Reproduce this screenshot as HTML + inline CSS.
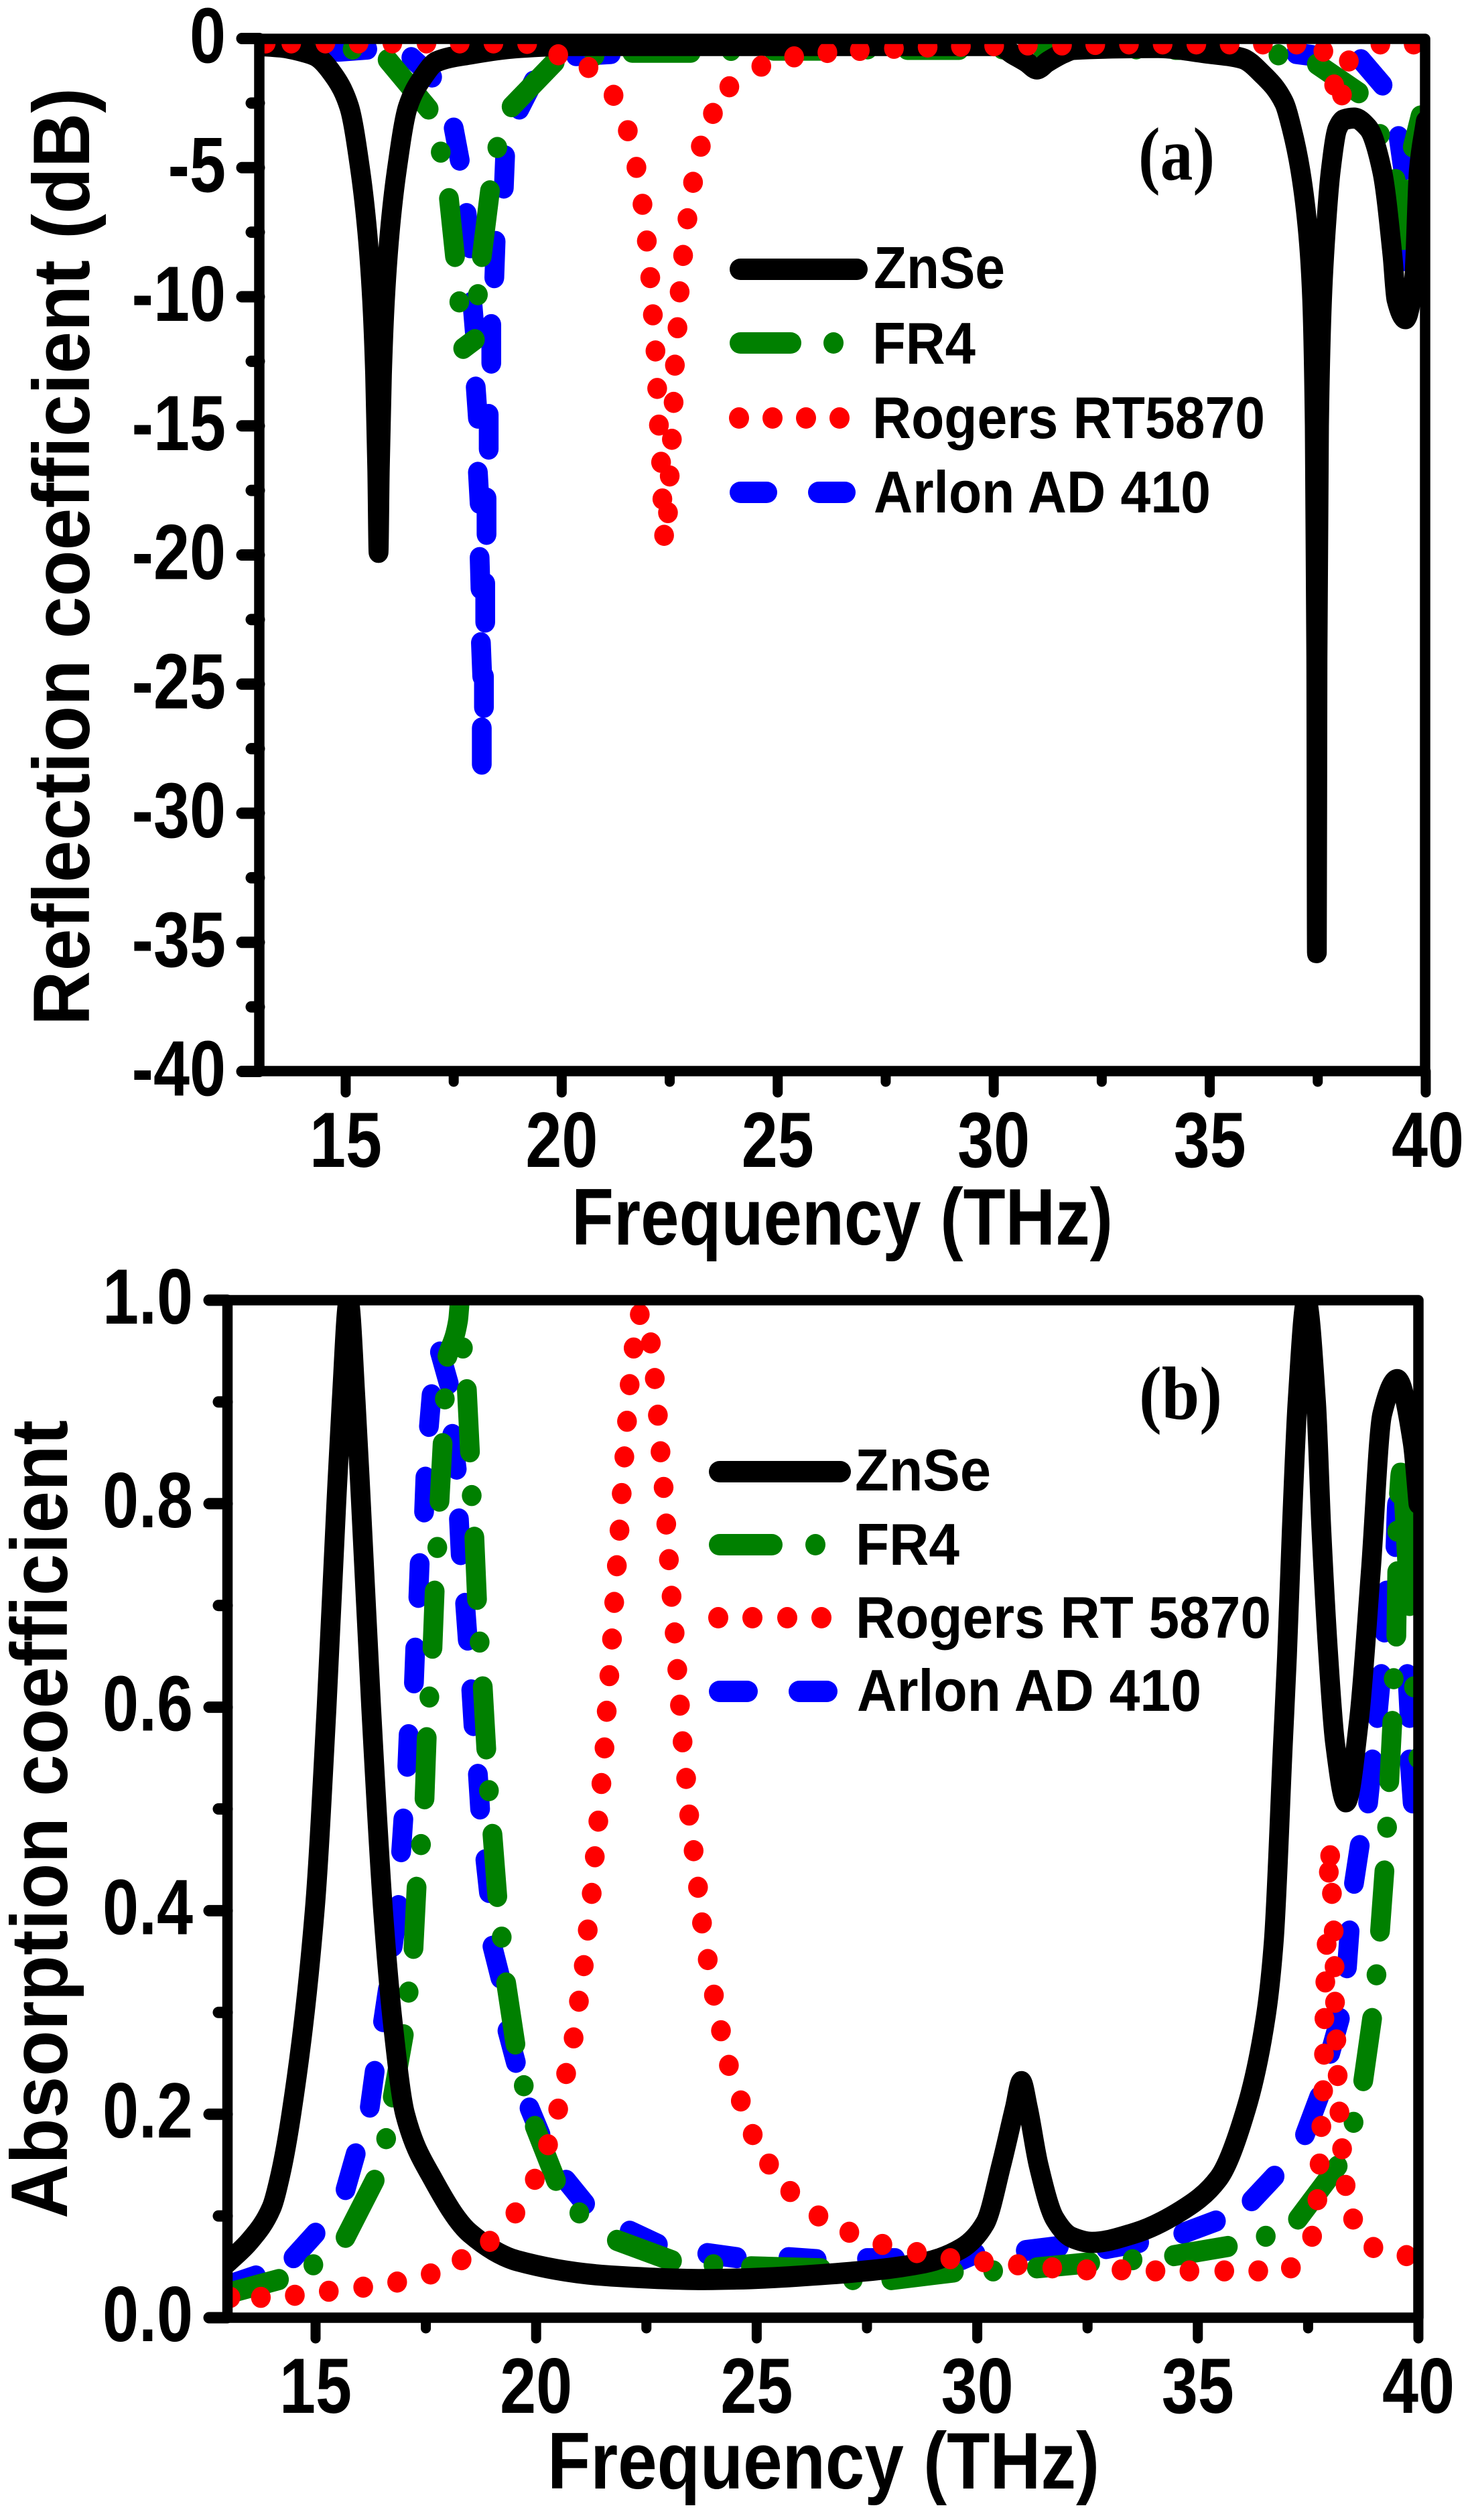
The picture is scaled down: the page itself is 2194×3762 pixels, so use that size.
<!DOCTYPE html>
<html lang="en">
<head>
<meta charset="utf-8">
<title>Reflection and absorption coefficient spectra</title>
<style>
html,body{margin:0;padding:0;background:#fff;}
svg{display:block;}
text{font-family:"Liberation Sans",sans-serif;font-weight:700;fill:#000;}
.serif{font-family:"Liberation Serif",serif;}
</style>
</head>
<body>
<svg id="chart" xmlns="http://www.w3.org/2000/svg" width="2194" height="3762" viewBox="0 0 2194 3762">
<rect x="0" y="0" width="2194" height="3762" fill="#fff"/>
<defs>
<clipPath id="clipA"><rect x="387" y="58" width="1740" height="1541"/></clipPath>
<clipPath id="clipB"><rect x="339" y="1941" width="1778" height="1519"/></clipPath>
</defs>
<g id="panelA"></g>
<g id="panelB"></g>

<text transform="translate(133,1531) rotate(-90)" font-size="120" textLength="1400" lengthAdjust="spacingAndGlyphs">Reflection coefficient (dB)</text>
<text x="853" y="1858" font-size="120" textLength="808" lengthAdjust="spacingAndGlyphs">Frequency (THz)</text>
<text class="serif" x="1699" y="268" font-size="112" textLength="114" lengthAdjust="spacingAndGlyphs">(a)</text>

<g>
<g>
<line x1="1105" y1="402" x2="1279" y2="402" stroke="#000" stroke-width="32" stroke-linecap="round"/>
<text x="1304" y="430" font-size="88" textLength="196" lengthAdjust="spacingAndGlyphs">ZnSe</text>
</g>
<g>
<line x1="1105" y1="512" x2="1180" y2="512" stroke="#008000" stroke-width="32" stroke-linecap="round"/>
<ellipse cx="1244" cy="512" rx="15" ry="16" fill="#008000"/>
<text x="1302" y="543" font-size="88" textLength="154" lengthAdjust="spacingAndGlyphs">FR4</text>
</g>
<g>
<ellipse cx="1103" cy="624" rx="15" ry="16" fill="#f00"/>
<ellipse cx="1153" cy="624" rx="15" ry="16" fill="#f00"/>
<ellipse cx="1203" cy="624" rx="15" ry="16" fill="#f00"/>
<ellipse cx="1253" cy="624" rx="15" ry="16" fill="#f00"/>
<text x="1302" y="654" font-size="88" textLength="586" lengthAdjust="spacingAndGlyphs">Rogers RT5870</text>
</g>
<g>
<line x1="1105" y1="735" x2="1144" y2="735" stroke="#00f" stroke-width="32" stroke-linecap="round"/>
<line x1="1222" y1="735" x2="1261" y2="735" stroke="#00f" stroke-width="32" stroke-linecap="round"/>
<text x="1304" y="765" font-size="88" textLength="503" lengthAdjust="spacingAndGlyphs">Arlon AD 410</text>
</g>
</g>

<text transform="translate(100,3312) rotate(-90)" font-size="120" textLength="1192" lengthAdjust="spacingAndGlyphs">Absorption coefficient</text>
<text x="817" y="3715" font-size="120" textLength="824" lengthAdjust="spacingAndGlyphs">Frequency (THz)</text>
<text class="serif" x="1700" y="2118" font-size="112" textLength="124" lengthAdjust="spacingAndGlyphs">(b)</text>

<g>
<g>
<line x1="1074" y1="2197" x2="1254" y2="2197" stroke="#000" stroke-width="32" stroke-linecap="round"/>
<text x="1276" y="2225" font-size="88" textLength="203" lengthAdjust="spacingAndGlyphs">ZnSe</text>
</g>
<g>
<line x1="1074" y1="2306" x2="1152" y2="2306" stroke="#008000" stroke-width="32" stroke-linecap="round"/>
<ellipse cx="1217" cy="2306" rx="15" ry="16" fill="#008000"/>
<text x="1277" y="2336" font-size="88" textLength="155" lengthAdjust="spacingAndGlyphs">FR4</text>
</g>
<g>
<ellipse cx="1072" cy="2415" rx="15" ry="16" fill="#f00"/>
<ellipse cx="1123" cy="2415" rx="15" ry="16" fill="#f00"/>
<ellipse cx="1175" cy="2415" rx="15" ry="16" fill="#f00"/>
<ellipse cx="1226" cy="2415" rx="15" ry="16" fill="#f00"/>
<text x="1277" y="2445" font-size="88" textLength="620" lengthAdjust="spacingAndGlyphs">Rogers RT 5870</text>
</g>
<g>
<line x1="1074" y1="2525" x2="1115" y2="2525" stroke="#00f" stroke-width="32" stroke-linecap="round"/>
<line x1="1193" y1="2525" x2="1234" y2="2525" stroke="#00f" stroke-width="32" stroke-linecap="round"/>
<text x="1279" y="2554" font-size="88" textLength="514" lengthAdjust="spacingAndGlyphs">Arlon AD 410</text>
</g>
</g>
</svg>

<script>
// Tick values
const xMajorTicks = [15, 20, 25, 30, 35, 40];
const xMinorTicks = [17.5, 22.5, 27.5, 32.5, 37.5];
const yMajorTicksA = [0, -5, -10, -15, -20, -25, -30, -35, -40];
const yMinorTicksA = [-2.5, -7.5, -12.5, -17.5, -22.5, -27.5, -32.5, -37.5];
const yTickLabelsA = ['0', '-5', '-10', '-15', '-20', '-25', '-30', '-35', '-40'];
const yMajorTicksB = [0, 0.2, 0.4, 0.6, 0.8, 1.0];
const yMinorTicksB = [0.1, 0.3, 0.5, 0.7, 0.9];
const yTickLabelsB = ['0.0', '0.2', '0.4', '0.6', '0.8', '1.0'];

// Panel (a): frequency (THz) / reflection (dB). null = a visible gap in the dash pattern.
const znseFreqA = [13,13.5,14,14.29,14.75,15.08,15.34,15.5,15.61,15.68,15.73,15.76,15.79,15.84,15.91,16.02,16.18,16.44,16.79,17.1,17.88,19,20.05,25,30.1,30.44,30.75,31,31.25,31.63,31.85,33.8,34.88,35.75,36.23,36.72,36.9,37.1,37.28,37.37,37.43,37.465,37.48,37.495,37.53,37.6,37.68,37.8,37.96,38.1,38.34,38.67,38.99,39.23,39.32,39.53,39.73,39.84,40];
const znseReflA = [-0.27,-0.33,-0.5,-0.66,-1.49,-2.64,-5.13,-7.5,-10.1,-13,-16.7,-19.9,-16.7,-13,-10.1,-7.5,-5.13,-2.64,-1.49,-0.9,-0.6,-0.35,-0.27,-0.27,-0.27,-0.6,-0.9,-1.18,-0.9,-0.55,-0.42,-0.35,-0.55,-0.77,-1.4,-2.48,-3.5,-5.13,-7.6,-10.1,-15,-24,-35.4,-24,-15,-10.1,-7.6,-5.13,-3.47,-3.15,-3.08,-3.47,-5.13,-8.4,-10.1,-10.85,-9.3,-5.1,-3.2];
const fr4FreqA = [13,13.7,null,14.4,null,15.16,null,15.97,16.92,null,17.2,null,17.39,17.53,null,17.63,null,17.72,17.99,null,18.06,null,18.15,18.34,null,18.51,null,18.84,19.84,null,20.76,null,21.63,22.99,null,23.92,null,24.9,26.1,null,27.08,null,28,29.2,null,30.2,null,31.1,32.3,null,33.3,null,34.2,35.4,null,36.59,null,37.48,38.45,null,38.94,null,39.3,39.48,null,39.55,null,39.7,39.88];
const fr4ReflA = [-0.15,-0.18,null,-0.25,null,-0.41,null,-0.82,-2.73,null,-4.4,null,-6.2,-8.44,null,-10.2,null,-12,-11.66,null,-9.92,null,-8.44,-5.9,null,-4.22,null,-2.64,-0.91,null,-0.66,null,-0.53,-0.53,null,-0.46,null,-0.45,-0.45,null,-0.4,null,-0.42,-0.42,null,-0.4,null,-0.35,-0.35,null,-0.4,null,-0.42,-0.42,null,-0.63,null,-0.99,-2.1,null,-3.72,null,-5.46,-7.78,null,-5.87,null,-4.2,-3];
const arlonFreqA = [13,13.65,null,14.83,15.5,null,16.52,17,null,17.5,17.64,null,17.8,17.88,null,17.93,17.99,null,18.01,18.06,null,18.06,18.1,null,18.1,18.12,null,18.13,18.16,null,18.15,18.15,null,18.2,18.2,null,18.23,18.23,null,18.26,18.26,null,18.31,18.31,null,18.37,18.37,null,18.44,18.47,null,18.66,18.69,null,19.02,19.35,null,20.33,21.14,null,37,37.37,null,38.5,39,null,39.37,39.48,null,39.5,39.52];
const arlonReflA = [-0.12,-0.15,null,-0.49,-0.41,null,-0.74,-1.49,null,-3.47,-4.71,null,-6.78,-8.1,null,-10.2,-11.4,null,-13.5,-14.7,null,-16.8,-18,null,-20.1,-21.3,null,-23.4,-24.7,null,-26.7,-28.1,null,-25.9,-24.7,null,-22.6,-21.1,null,-19.2,-17.8,null,-15.9,-14.56,null,-12.57,-11.08,null,-9.26,-7.86,null,-5.79,-4.55,null,-2.73,-1.65,null,-0.66,-0.58,null,-0.58,-0.66,null,-0.82,-1.8,null,-3.8,-5.1,null,-7.2,-8.6];
const rogersFreqA = [13.15,null,13.74,null,14.53,null,15.3,null,16.08,null,16.87,null,17.64,null,18.42,null,19.2,null,19.92,null,20.62,null,21.2,null,21.53,null,21.73,null,21.87,null,21.97,null,22.05,null,22.11,null,22.17,null,22.21,null,22.25,null,22.3,null,22.33,null,22.37,null,22.46,null,22.5,null,22.55,null,22.59,null,22.62,null,22.68,null,22.73,null,22.81,null,22.91,null,23.04,null,23.22,null,23.5,null,23.88,null,24.62,null,25.38,null,26.15,null,26.9,null,27.69,null,28.47,null,29.24,null,30.01,null,30.79,null,31.58,null,32.35,null,33.13,null,33.91,null,34.69,null,35.46,null,36.23,null,37.01,null,37.63,null,37.88,null,38.06,null,38.22,null,38.95,null,39.72];
const rogersReflA = [-0.17,null,-0.17,null,-0.17,null,-0.17,null,-0.17,null,-0.17,null,-0.17,null,-0.17,null,-0.19,null,-0.63,null,-1.12,null,-2.2,null,-3.57,null,-4.99,null,-6.42,null,-7.84,null,-9.26,null,-10.7,null,-12.1,null,-13.55,null,-14.97,null,-16.41,null,-17.83,null,-19.24,null,-18.36,null,-16.94,null,-15.52,null,-14.09,null,-12.65,null,-11.2,null,-9.81,null,-8.4,null,-6.98,null,-5.57,null,-4.17,null,-2.9,null,-1.87,null,-1.07,null,-0.71,null,-0.54,null,-0.46,null,-0.38,null,-0.33,null,-0.3,null,-0.28,null,-0.25,null,-0.25,null,-0.23,null,-0.21,null,-0.21,null,-0.21,null,-0.21,null,-0.21,null,-0.21,null,-0.49,null,-1.8,null,-2.18,null,-0.87,null,-0.21,null,-0.21];

// Panel (b): frequency (THz) / absorption coefficient. null = a visible gap in the dash pattern.
const znseFreqB = [13,13.5,14,14.2,14.45,14.98,15.25,15.47,15.59,15.75,15.91,16.03,16.26,16.53,16.75,17.03,17.65,18.5,19.57,21.7,23.8,24.55,26.67,28.8,29.64,30.18,30.55,30.85,31,31.15,31.39,31.76,32.14,32.6,33.56,34.62,35.47,36.1,36.54,36.72,36.93,37.02,37.13,37.26,37.46,37.68,37.8,37.96,38.11,38.36,38.65,38.92,39.18,39.52,39.87,40];
const znseAbsB = [0.054,0.075,0.108,0.14,0.2,0.4,0.6,0.8,0.9,1,0.9,0.8,0.6,0.4,0.29,0.2,0.137,0.083,0.056,0.041,0.0375,0.038,0.043,0.054,0.068,0.093,0.151,0.206,0.232,0.206,0.15,0.097,0.079,0.074,0.083,0.105,0.137,0.206,0.296,0.369,0.565,0.649,0.775,0.9,1,0.9,0.775,0.649,0.565,0.507,0.586,0.733,0.888,0.922,0.86,0.8];
const fr4FreqB = [13.1,14.17,null,14.95,null,15.68,16.34,null,16.6,null,16.75,17,null,17.11,null,17.22,17.29,null,17.39,null,17.47,17.52,null,17.58,null,17.65,17.7,null,17.76,null,17.81,17.88,null,17.93,null,17.99,18.23,18.27,null,18.34,null,18.43,18.5,null,18.54,null,18.6,18.66,null,18.72,null,18.79,18.87,null,18.93,null,19.01,19.12,null,19.22,null,19.32,19.53,null,19.72,null,19.97,20.45,null,20.98,null,21.83,23.08,null,24.02,null,24.87,26.46,null,27.18,null,28.05,29.47,null,30.36,null,31.35,32.56,null,33.52,null,34.46,35.68,null,36.54,null,37.27,38.17,null,38.53,null,38.75,38.95,null,39.05,null,39.13,39.23,null,39.29,null,39.34,39.41,null,39.44,null,39.5,39.52,null,39.52,null,39.56,39.6,39.8,null,39.9,null,40];
const fr4AbsB = [0.025,0.0375,null,0.052,null,0.079,0.135,null,0.176,null,0.217,0.278,null,0.32,null,0.363,0.423,null,0.465,null,0.51,0.57,null,0.61,null,0.658,0.714,null,0.757,null,0.8025,0.859,null,0.903,null,0.945,0.98,1,null,0.953,null,0.912,0.851,null,0.808,null,0.767,0.706,null,0.664,null,0.62,0.559,null,0.518,null,0.475,0.414,null,0.374,null,0.329,0.269,null,0.228,null,0.188,0.135,null,0.103,null,0.076,0.056,null,0.052,null,0.05,0.048,null,0.0375,null,0.0375,0.045,null,0.046,null,0.049,0.054,null,0.057,null,0.061,0.07,null,0.08,null,0.097,0.149,null,0.192,null,0.233,0.294,null,0.337,null,0.38,0.439,null,0.482,null,0.527,0.586,null,0.628,null,0.67,0.733,null,0.773,null,0.81,0.83,0.7,null,0.62,null,0.55];
const arlonFreqB = [13.1,13.65,null,14.5,15,null,15.68,15.91,null,16.23,16.34,null,16.53,16.64,null,16.75,16.88,null,16.94,16.99,null,17.08,17.11,null,17.23,17.26,null,17.33,17.36,null,17.46,17.49,null,17.57,17.63,null,17.82,18.02,null,18.1,18.2,null,18.25,18.29,null,18.39,18.45,null,18.53,18.58,null,18.68,18.73,null,18.85,18.93,null,19.01,19.19,null,19.35,19.54,null,19.85,20.1,null,20.68,21.11,null,22.12,22.76,null,23.88,24.55,null,25.72,26.36,null,27.5,28.14,null,29.64,29.96,null,31.1,31.85,null,32.92,33.67,null,34.67,35.41,null,36.22,36.74,null,37.43,37.75,null,38,38.22,null,38.38,38.44,null,38.54,38.67,null,38.86,38.96,null,39.07,39.16,null,39.23,39.28,null,39.48,39.52,39.6,null,39.75,39.8,null,39.8,39.87];
const arlonAbsB = [0.033,0.041,null,0.059,0.083,null,0.126,0.161,null,0.207,0.242,null,0.291,0.323,null,0.365,0.405,null,0.458,0.49,null,0.542,0.573,null,0.624,0.658,null,0.708,0.741,null,0.792,0.826,null,0.876,0.907,null,0.949,0.918,null,0.868,0.834,null,0.785,0.75,null,0.702,0.666,null,0.617,0.582,null,0.534,0.5,null,0.45,0.418,null,0.365,0.334,null,0.282,0.251,null,0.206,0.18,null,0.135,0.112,null,0.085,0.072,null,0.063,0.059,null,0.059,0.057,null,0.058,0.058,null,0.057,0.063,null,0.066,0.07,null,0.068,0.074,null,0.083,0.095,null,0.115,0.139,null,0.18,0.217,null,0.26,0.294,null,0.344,0.38,null,0.427,0.464,null,0.506,0.548,null,0.59,0.632,null,0.674,0.714,null,0.758,0.8,0.78,null,0.632,0.59,null,0.548,0.506];
const rogersFreqB = [13.07,null,13.76,null,14.53,null,15.3,null,16.08,null,16.85,null,17.61,null,18.31,null,18.95,null,19.53,null,19.97,null,20.27,null,20.5,null,20.68,null,20.85,null,20.97,null,21.08,null,21.17,null,21.26,null,21.33,null,21.41,null,21.48,null,21.55,null,21.6,null,21.66,null,21.72,null,21.77,null,21.83,null,21.89,null,21.94,null,22,null,22.06,null,22.12,null,22.21,null,22.35,null,22.6,null,22.69,null,22.76,null,22.82,null,22.89,null,22.95,null,23.01,null,23.07,null,23.14,null,23.2,null,23.26,null,23.32,null,23.4,null,23.47,null,23.57,null,23.67,null,23.76,null,23.89,null,24.03,null,24.19,null,24.37,null,24.64,null,24.91,null,25.28,null,25.76,null,26.4,null,27.1,null,27.85,null,28.63,null,29.39,null,30.15,null,30.92,null,31.7,null,32.48,null,33.27,null,34.04,null,34.81,null,35.6,null,36.37,null,37.11,null,37.59,null,37.71,null,37.76,null,37.8,null,37.84,null,37.86,null,37.87,null,37.89,null,37.92,null,37.97,null,38,null,38.04,null,38.08,null,38.1,null,38.11,null,38.14,null,38.17,null,38.21,null,38.27,null,38.35,null,38.52,null,38.98,null,39.73];
const rogersAbsB = [0.02,null,0.02,null,0.022,null,0.026,null,0.03,null,0.035,null,0.043,null,0.057,null,0.075,null,0.103,null,0.136,null,0.17,null,0.205,null,0.24,null,0.275,null,0.311,null,0.346,null,0.381,null,0.417,null,0.453,null,0.488,null,0.525,null,0.56,null,0.596,null,0.631,null,0.667,null,0.703,null,0.739,null,0.774,null,0.81,null,0.846,null,0.881,null,0.917,null,0.953,null,0.986,null,0.958,null,0.923,null,0.887,null,0.851,null,0.816,null,0.78,null,0.745,null,0.709,null,0.673,null,0.637,null,0.602,null,0.566,null,0.53,null,0.494,null,0.459,null,0.423,null,0.388,null,0.352,null,0.317,null,0.282,null,0.248,null,0.213,null,0.18,null,0.151,null,0.124,null,0.1,null,0.084,null,0.072,null,0.064,null,0.058,null,0.055,null,0.052,null,0.049,null,0.047,null,0.047,null,0.046,null,0.046,null,0.046,null,0.046,null,0.049,null,0.08,null,0.116,null,0.151,null,0.188,null,0.223,null,0.259,null,0.294,null,0.33,null,0.367,null,0.438,null,0.454,null,0.417,null,0.38,null,0.345,null,0.31,null,0.273,null,0.238,null,0.202,null,0.166,null,0.13,null,0.097,null,0.069,null,0.061];

const SVG_NS = 'http://www.w3.org/2000/svg';
const STRETCH = 1.07; // the original figure is slightly stretched vertically

function node(parent, tag) {
  const el = document.createElementNS(SVG_NS, tag);
  parent.appendChild(el);
  return el;
}

// Monotone cubic through a run of points with increasing x (no overshoot, no loops).
function monotoneSegments(run) {
  const n = run.length;
  const h = [], s = [], m = new Array(n);
  for (let i = 0; i < n - 1; i++) {
    h[i] = (run[i + 1][0] - run[i][0]) || 0.01;
    s[i] = (run[i + 1][1] - run[i][1]) / h[i];
  }
  m[0] = s[0];
  m[n - 1] = s[n - 2];
  for (let i = 1; i < n - 1; i++) {
    if (s[i - 1] * s[i] <= 0) {
      m[i] = 0;
    } else {
      const w1 = 2 * h[i] + h[i - 1], w2 = h[i] + 2 * h[i - 1];
      m[i] = (w1 + w2) / (w1 / s[i - 1] + w2 / s[i]);
    }
  }
  let d = 'M' + run[0][0] + ' ' + run[0][1];
  for (let i = 0; i < n - 1; i++) {
    const c1x = run[i][0] + h[i] / 3, c1y = run[i][1] + m[i] * h[i] / 3;
    const c2x = run[i + 1][0] - h[i] / 3, c2y = run[i + 1][1] - m[i + 1] * h[i] / 3;
    d += 'C' + c1x.toFixed(2) + ' ' + c1y.toFixed(2) + ' ' + c2x.toFixed(2) + ' ' + c2y.toFixed(2) + ' ' + run[i + 1][0].toFixed(2) + ' ' + run[i + 1][1].toFixed(2);
  }
  return d;
}

// Build a path; each run between nulls is one dash, and a single-point run is a dot.
function seriesPath(freq, vals, xs, ys) {
  let d = '';
  let run = [];
  function flush() {
    if (run.length === 1) {
      d += 'M' + run[0][0] + ' ' + run[0][1] + 'L' + run[0][0] + ' ' + run[0][1];
    } else if (run.length === 2) {
      d += 'M' + run[0][0] + ' ' + run[0][1] + 'L' + run[1][0] + ' ' + run[1][1];
    } else if (run.length > 2) {
      d += monotoneSegments(run);
    }
    run = [];
  }
  for (let i = 0; i < freq.length; i++) {
    if (freq[i] === null || vals[i] === null) { flush(); continue; }
    run.push([+xs(freq[i]).toFixed(2), +(ys(vals[i]) / STRETCH).toFixed(2)]);
  }
  flush();
  return d;
}

function drawSeries(host, freq, vals, xs, ys, color, name) {
  const el = node(host, 'path');
  
  
  el.setAttribute('d', seriesPath(freq, vals, xs, ys));
  el.setAttribute('fill', 'none');
  el.setAttribute('stroke', color);
  el.setAttribute('stroke-width', '29.5');
  el.setAttribute('stroke-linecap', 'round');
  el.setAttribute('stroke-linejoin', 'round');
}

function tick(host, x1, y1, x2, y2, width, name) {
  const el = node(host, 'line');
  
  
  el.setAttribute('x1', x1);
  el.setAttribute('y1', y1);
  el.setAttribute('x2', x2);
  el.setAttribute('y2', y2);
  el.setAttribute('stroke', '#000');
  el.setAttribute('stroke-width', width);
  el.setAttribute('stroke-linecap', 'round');
}

function label(host, x, y, str, anchor, name) {
  const el = node(host, 'text');
  
  
  el.setAttribute('transform', 'translate(' + x + ',' + y + ') scale(0.83,1)');
  el.setAttribute('text-anchor', anchor);
  el.setAttribute('font-size', '117');
  el.textContent = str;
}

function drawFrame(host, x0, y0, w, h) {
  const el = node(host, 'rect');
  
  
  el.setAttribute('x', x0);
  el.setAttribute('y', y0);
  el.setAttribute('width', w);
  el.setAttribute('height', h);
  el.setAttribute('fill', 'none');
  el.setAttribute('stroke', '#000');
  el.setAttribute('stroke-width', '15.5');
  el.setAttribute('stroke-linejoin', 'round');
}

// ---------- Panel (a) ----------
const hostA = document.getElementById('panelA');
const xA = f => 387 + (f - 13) * 64.48;
const yA = v => 57.5 - v * 38.55;
const clipGroupA = node(hostA, 'g');


clipGroupA.setAttribute('clip-path', 'url(#clipA)');
const marksA = node(clipGroupA, 'g');


marksA.setAttribute('transform', 'scale(1,' + STRETCH + ')');
drawSeries(marksA, arlonFreqA, arlonReflA, xA, yA, '#00f', 'series-arlon-ad410-a');
drawSeries(marksA, fr4FreqA, fr4ReflA, xA, yA, '#008000', 'series-fr4-a');
drawSeries(marksA, znseFreqA, znseReflA, xA, yA, '#000', 'series-znse-a');
drawSeries(marksA, rogersFreqA, rogersReflA, xA, yA, '#f00', 'series-rogers-rt5870-a');
drawFrame(hostA, 387, 58, 1740, 1541);
yMajorTicksA.forEach((v, i) => {
  tick(hostA, 361, yA(v), 387, yA(v), 17, 'y-major-tick-a');
  label(hostA, 337, yA(v) + 36, yTickLabelsA[i], 'end', 'y-tick-label-a');
});
yMinorTicksA.forEach(v => {
  tick(hostA, 375, yA(v), 387, yA(v), 17, 'y-minor-tick-a');
});
xMajorTicks.forEach(v => {
  tick(hostA, xA(v), 1599, xA(v), 1631, 15, 'x-major-tick-a');
  label(hostA, xA(v) + (v === 40 ? 3 : 0), 1742, String(v), 'middle', 'x-tick-label-a');
});
xMinorTicks.forEach(v => {
  tick(hostA, xA(v), 1599, xA(v), 1615, 15, 'x-minor-tick-a');
});

// ---------- Panel (b) ----------
const hostB = document.getElementById('panelB');
const xB = f => 339.3 + (f - 13) * 65.84;
const yB = v => 3460 - v * 1519;
const clipGroupB = node(hostB, 'g');


clipGroupB.setAttribute('clip-path', 'url(#clipB)');
const marksB = node(clipGroupB, 'g');


marksB.setAttribute('transform', 'scale(1,' + STRETCH + ')');
drawSeries(marksB, arlonFreqB, arlonAbsB, xB, yB, '#00f', 'series-arlon-ad410-b');
drawSeries(marksB, fr4FreqB, fr4AbsB, xB, yB, '#008000', 'series-fr4-b');
drawSeries(marksB, znseFreqB, znseAbsB, xB, yB, '#000', 'series-znse-b');
drawSeries(marksB, rogersFreqB, rogersAbsB, xB, yB, '#f00', 'series-rogers-rt5870-b');
drawFrame(hostB, 339.5, 1941, 1777.5, 1519);
yMajorTicksB.forEach((v, i) => {
  tick(hostB, 312, yB(v), 339, yB(v), 17, 'y-major-tick-b');
  label(hostB, 288, yB(v) + 35, yTickLabelsB[i], 'end', 'y-tick-label-b');
});
yMinorTicksB.forEach(v => {
  tick(hostB, 326, yB(v), 339, yB(v), 17, 'y-minor-tick-b');
});
xMajorTicks.forEach(v => {
  tick(hostB, xB(v), 3460, xB(v), 3491, 15, 'x-major-tick-b');
  label(hostB, xB(v), 3602, String(v), 'middle', 'x-tick-label-b');
});
xMinorTicks.forEach(v => {
  tick(hostB, xB(v), 3460, xB(v), 3476, 15, 'x-minor-tick-b');
});
</script>
</body>
</html>
